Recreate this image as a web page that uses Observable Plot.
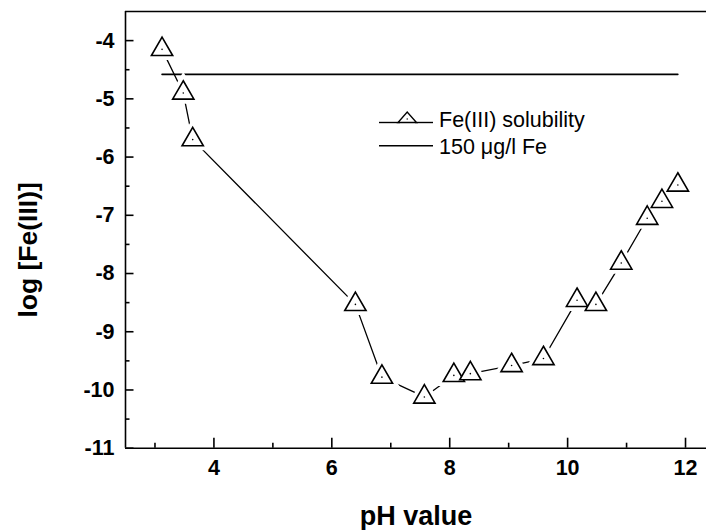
<!DOCTYPE html>
<html>
<head>
<meta charset="utf-8">
<script src="https://cdn.jsdelivr.net/npm/d3@7"></script>
<script src="https://cdn.jsdelivr.net/npm/@observablehq/plot@0.6"></script>
<style>
  html, body { margin: 0; padding: 0; background: white; }
  #wrap { position: relative; width: 706px; height: 530px; overflow: hidden; }
  #legend { position: absolute; left: 0; top: 0; }
</style>
</head>
<body>
<div id="wrap"></div>
<script>
// Data
const pH = [3.12, 3.48, 3.64, 6.40, 6.85, 7.57, 8.07, 8.35, 9.05, 9.59, 10.16, 10.48, 10.91, 11.35, 11.60, 11.87];
const logFe = [-4.15, -4.90, -5.70, -8.53, -9.78, -10.12, -9.75, -9.72, -9.58, -9.46, -8.46, -8.53, -7.82, -7.05, -6.76, -6.48];
const limitLevel = -4.58; // 150 µg/l Fe
const limitRange = [3.12, 11.87];

const xDomain = [2.5, 12.356];
const yDomain = [-11, -3.5];
const xMajor = [4, 6, 8, 10, 12];
const xMinor = [3, 5, 7, 9, 11];
const yMajor = [-11, -10, -9, -8, -7, -6, -5, -4];
const yMinor = [-10.5, -9.5, -8.5, -7.5, -6.5, -5.5, -4.5];

const seriesLabels = ["Fe(III) solubility", "150 \u03BCg/l Fe"];
const xTitle = "pH value";
const yTitle = "log [Fe(III)]";

const data = pH.map((x, i) => ({x, y: logFe[i]}));
const limitLine = limitRange.map(x => ({x, y: limitLevel}));

const font = "'Liberation Sans', Arial, sans-serif";

// custom symbol: a horizontal tick pointing right (length = r)
const rightTick = {draw(ctx, size) { const l = Math.sqrt(size / Math.PI); ctx.moveTo(0, 0); ctx.lineTo(l, 0); }};

const chart = Plot.plot({
  width: 706,
  height: 530,
  marginLeft: 125,
  marginRight: 0,
  marginTop: 11,
  marginBottom: 82.3,
  style: {fontFamily: font, color: "black", background: "white", overflow: "visible"},
  x: {domain: xDomain, axis: null},
  y: {domain: yDomain, axis: null},
  marks: [
    // frame (left, top, bottom)
    Plot.ruleX([xDomain[0]], {stroke: "black", strokeWidth: 1.6}),
    Plot.ruleY([yDomain[0], yDomain[1]], {stroke: "black", strokeWidth: 1.6}),
    // inward ticks
    Plot.axisX(xMajor, {tickSize: 10, dy: -10, tickFormat: () => "", label: null, strokeWidth: 1.6}),
    Plot.axisX(xMinor, {tickSize: 5, dy: -5, tickFormat: () => "", label: null, strokeWidth: 1.6}),
    Plot.dot(yMajor, {x: () => xDomain[0], y: d => d, symbol: rightTick, r: 8, stroke: "black", fill: "none", strokeWidth: 1.6}),
    Plot.dot(yMinor, {x: () => xDomain[0], y: d => d, symbol: rightTick, r: 4, stroke: "black", fill: "none", strokeWidth: 1.6}),
    // tick labels
    Plot.axisX(xMajor, {tickSize: 0, tickPadding: 12, fontSize: 21.5, fontWeight: "bold", label: null, tickFormat: d => String(d)}),
    Plot.axisY(yMajor, {tickSize: 0, tickPadding: 11, fontSize: 21.5, fontWeight: "bold", label: null, tickFormat: d => String(d)}),
    // axis titles
    Plot.text([xTitle], {frameAnchor: "bottom", dy: 77, fontSize: 27, fontWeight: "bold", fill: "black"}),
    Plot.text([yTitle], {frameAnchor: "left", textAnchor: "middle", rotate: -90, dx: -97, dy: 20, fontSize: 26.5, fontWeight: "bold", fill: "black"}),
    // limit line
    Plot.line(limitLine, {x: "x", y: "y", stroke: "black", strokeWidth: 1.6}),
    // solubility line
    Plot.line(data, {x: "x", y: "y", stroke: "black", strokeWidth: 1.3}),
    Plot.dot(data, {x: "x", y: "y", symbol: "triangle", r: 7.9, fill: "white", stroke: "white", strokeWidth: 9}),
    Plot.dot(data, {x: "x", y: "y", symbol: "triangle", r: 7.9, fill: "white", stroke: "black", strokeWidth: 1.6}),
    Plot.dot(data, {x: "x", y: "y", r: 0.8, fill: "black", stroke: "none"})
  ]
});

const wrap = document.getElementById("wrap");
wrap.appendChild(chart);

// Legend overlay
const lg = d3.select(wrap).append("svg")
  .attr("id", "legend").attr("width", 706).attr("height", 530)
  .style("font-family", font);
// row 1
lg.append("line").attr("x1", 379).attr("x2", 400).attr("y1", 122.5).attr("y2", 122.5).attr("stroke", "black").attr("stroke-width", 1.4);
lg.append("line").attr("x1", 415).attr("x2", 433).attr("y1", 122.5).attr("y2", 122.5).attr("stroke", "black").attr("stroke-width", 1.4);
lg.append("path").attr("d", "M398,122.5 L416.5,122.5 L407.2,112 Z").attr("fill", "white").attr("stroke", "black").attr("stroke-width", 1.4);
lg.append("circle").attr("cx", 407.2).attr("cy", 119).attr("r", 0.7).attr("fill", "black");
lg.append("text").attr("x", 439).attr("y", 126.5).attr("font-size", 21.5).text(seriesLabels[0]);
// row 2
lg.append("line").attr("x1", 379).attr("x2", 433).attr("y1", 145.7).attr("y2", 145.7).attr("stroke", "black").attr("stroke-width", 1.4);
lg.append("text").attr("x", 439).attr("y", 154).attr("font-size", 21.5).text(seriesLabels[1]);
</script>
</body>
</html>
